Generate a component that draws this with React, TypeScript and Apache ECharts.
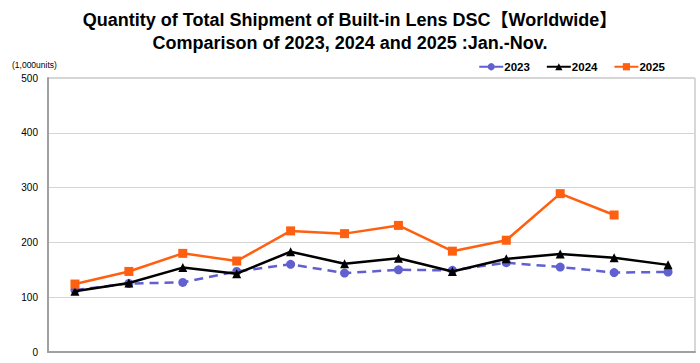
import React, { useEffect, useRef } from "react";
import * as echarts from "echarts";

const months = ["Jan", "Feb", "Mar", "Apr", "May", "Jun", "Jul", "Aug", "Sep", "Oct", "Nov", "Dec"];
const s2023 = [113, 125, 127, 147, 160, 144, 150, 149, 163, 155, 145, 146];
const s2024 = [111, 126, 154, 143, 183, 161, 171, 147, 170, 179, 172, 159];
const s2025 = [124, 147, 180, 166, 221, 216, 231, 184, 204, 289, 250];
const yTicks = { min: 0, max: 500, interval: 100 };
const titleLines = [
  "Quantity of Total Shipment of Built-in Lens DSC【Worldwide】",
  "Comparison of 2023, 2024 and 2025 :Jan.-Nov.",
];

export default function App() {
  const ref = useRef<HTMLDivElement>(null);
  useEffect(() => {
    if (!ref.current) return;
    const chart = echarts.init(ref.current, undefined, { renderer: "svg" });
    const font = "Liberation Sans, Arial, Noto Sans CJK JP, sans-serif";
    chart.setOption({
      animation: false,
      backgroundColor: "#fff",
      textStyle: { fontFamily: font },
      legend: {
        right: 30,
        top: 56,
        itemWidth: 24,
        itemHeight: 9,
        itemGap: 16,
        textStyle: { fontSize: 11.5, color: "#000", fontWeight: "bold", padding: [0, 0, 0, -4] },
        data: ["2023", "2024", "2025"],
      },
      graphic: [
        {
          type: "text",
          x: 350,
          y: 20,
          style: {
            text: titleLines[0],
            align: "center",
            verticalAlign: "middle",
            fontSize: 18,
            fontWeight: "bold",
            fill: "#000",
            fontFamily: font,
          },
        },
        {
          type: "text",
          x: 350,
          y: 43,
          style: {
            text: titleLines[1],
            align: "center",
            verticalAlign: "middle",
            fontSize: 18,
            fontWeight: "bold",
            fill: "#000",
            fontFamily: font,
          },
        },
        {
          type: "text",
          x: 12,
          y: 61,
          style: { text: "(1,000units)", fontSize: 8.5, fill: "#000", fontFamily: font },
        },
      ],
      grid: {
        left: 48,
        right: 5,
        top: 78,
        bottom: 11,
        show: true,
        borderColor: "#b0b0b0",
        borderWidth: 1,
        containLabel: false,
      },
      xAxis: {
        type: "category",
        data: months,
        boundaryGap: true,
        axisLine: { show: true, lineStyle: { color: "#a0a0a0", width: 2 } },
        axisTick: { show: false },
        axisLabel: { show: false },
      },
      yAxis: {
        type: "value",
        min: yTicks.min,
        max: yTicks.max,
        interval: yTicks.interval,
        axisLine: { show: true, lineStyle: { color: "#a0a0a0", width: 2 } },
        axisTick: { show: false },
        axisLabel: { fontSize: 10, color: "#000", margin: 10 },
        splitLine: { lineStyle: { color: "#d4d4d4", width: 1 } },
      },
      series: [
        {
          name: "2023",
          type: "line",
          data: s2023,
          symbol: "circle",
          symbolSize: 9,
          itemStyle: { color: "#6060d0" },
          lineStyle: { color: "#6060d0", width: 2.5, type: [9, 6] },
          z: 2,
        },
        {
          name: "2024",
          type: "line",
          data: s2024,
          symbol: "triangle",
          symbolSize: 9,
          itemStyle: { color: "#000" },
          lineStyle: { color: "#000", width: 2.5 },
          z: 3,
        },
        {
          name: "2025",
          type: "line",
          data: s2025,
          symbol: "rect",
          symbolSize: 9,
          itemStyle: { color: "#ff6010" },
          lineStyle: { color: "#ff6010", width: 2.5 },
          z: 4,
        },
      ],
    });
    return () => chart.dispose();
  }, []);
  return <div ref={ref} style={{ position: "fixed", left: 0, top: 0, width: 700, height: 363 }} />;
}
